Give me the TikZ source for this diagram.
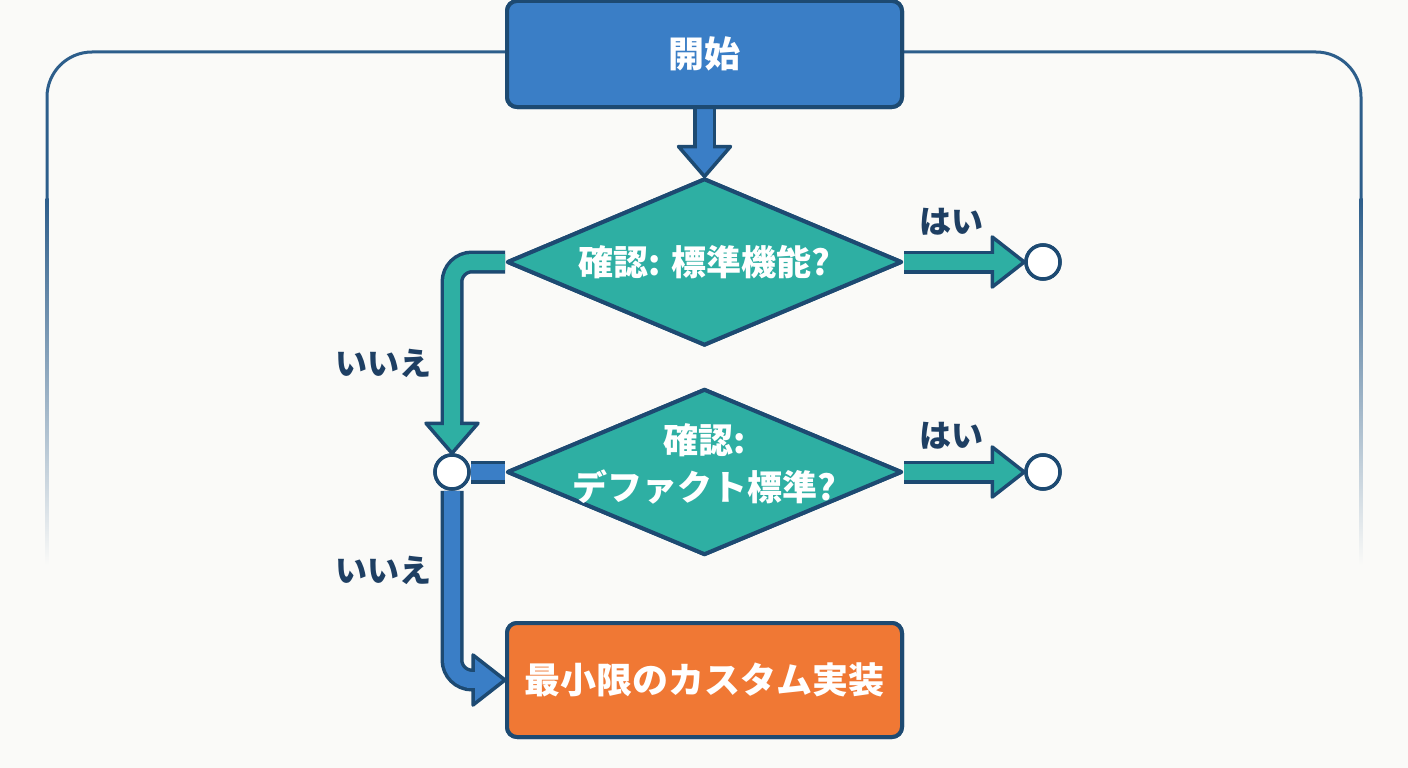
\documentclass[tikz,border=0pt]{standalone}
\usepackage{fontspec}
\setmainfont{Noto Sans CJK JP}
\usetikzlibrary{shapes.geometric,calc}
\definecolor{bg}{HTML}{FAFAF8}
\definecolor{dk}{HTML}{1D4A72}
\definecolor{frame}{HTML}{2D5E8B}
\definecolor{bluef}{HTML}{3A7EC6}
\definecolor{tealf}{HTML}{2EAFA3}
\definecolor{orangef}{HTML}{F07834}
\definecolor{lbl}{HTML}{1E3F63}
\tikzset{
  boxnode/.style={rectangle, rounded corners=10, draw=dk, line width=4, minimum width=395, minimum height=#1, inner sep=0},
  dianode/.style={diamond, draw=dk, line width=4, fill=tealf, minimum width=395, minimum height=167, inner sep=0, line join=round},
  dtext/.style={text=white, font=\fontsize{35}{47}\selectfont\bfseries, align=center},
  btext/.style={text=white, font=\fontsize{36}{40}\selectfont\bfseries},
  lab/.style={text=lbl, font=\fontsize{32}{34}\selectfont\bfseries},
  junc/.style={circle, draw=dk, fill=white, line width=3.5, minimum size=34, inner sep=0},
  band/.style={draw=dk, line width=3.5, double=#1, double distance=16},
}
\newcommand{\headdown}[2]{%
  \filldraw[fill=#2, draw=dk, line width=3.5, line join=round] (#1) -- ++(-26,-30) -- ++(52,0) -- cycle;
  \draw[#2, line width=16] ($(#1)+(0,-36)$) -- ($(#1)+(0,-27)$);}
\newcommand{\headright}[2]{%
  \filldraw[fill=#2, draw=dk, line width=3.5, line join=round] (#1) -- ++(-32,-25) -- ++(0,50) -- cycle;
  \draw[#2, line width=16] ($(#1)+(-38,0)$) -- ($(#1)+(-29,0)$);}
\begin{document}
\begin{tikzpicture}[x=1pt,y=-1pt]
\fill[bg] (0,0) rectangle (1408,768);
\useasboundingbox (0,0) rectangle (1408,768);
% outer frame
\draw[frame, line width=3, rounded corners=45] (47,202) -- (47,52) -- (1361,52) -- (1361,202);
\shade[top color=frame, bottom color=bg] (45.5,198) rectangle (48.5,565);
\shade[top color=frame, bottom color=bg] (1359.5,198) rectangle (1362.5,565);
% nodes
\path (704.5,262) node[dianode] (d1) {};
\path (704.5,472) node[dianode, minimum height=166] (d2) {};
\path (704.5,54) coordinate (startc);
\path (704.5,680) coordinate (implc);
\path (1043,262) coordinate (y1c);
\path (1043,472) coordinate (y2c);
\path (452,472) coordinate (jc);
\node[boxnode=106, fill=bluef] (start) at (startc) {};
\node[boxnode=114, fill=orangef] (impl) at (implc) {};
\node[junc] (y1) at (y1c) {};
\node[junc] (y2) at (y2c) {};
\node[junc] (j) at (jc) {};
% connectors
\draw[band=bluef] (start.south) -- ($(d1.north)+(0,-30)$);
\headdown{d1.north}{bluef}
\draw[band=tealf] (d1.east) -- ($(y1.west)+(-32,0)$);
\headright{y1.west}{tealf}
\draw[band=tealf, rounded corners=20] (d1.west) -| ($(j.north)+(0,-30)$);
\headdown{j.north}{tealf}
\draw[band=bluef] (j.east) -- (d2.west);
\draw[band=tealf] (d2.east) -- ($(y2.west)+(-32,0)$);
\headright{y2.west}{tealf}
\draw[band=bluef, rounded corners=20] (j.south) |- ($(impl.west)+(-32,0)$);
\headright{impl.west}{bluef}
% redraw nodes on top
\node[dianode] (d1b) at (d1) {};
\node[dianode, minimum height=166] (d2b) at (d2) {};
\node[boxnode=106, fill=bluef] (startb) at (startc) {};
\node[boxnode=114, fill=orangef] (implb) at (implc) {};
\node[junc] at (y1c) {};
\node[junc] at (y2c) {};
\node[junc] at (jc) {};
% texts
\node[btext] (t0) at (start) {開始};
\node[dtext] (t1) at (d1) {確認: 標準機能?};
\node[dtext] (t2) at ($(d2)+(0,-8)$) {確認:\\デファクト標準?};
\node[btext] (t3) at (impl) {最小限のカスタム実装};
\node[lab] (l1) at (951,222) {はい};
\node[lab] (l2) at (951,436) {はい};
\node[lab] (l3) at (383,363) {いいえ};
\node[lab] (l4) at (383,570) {いいえ};
\end{tikzpicture}
\end{document}
